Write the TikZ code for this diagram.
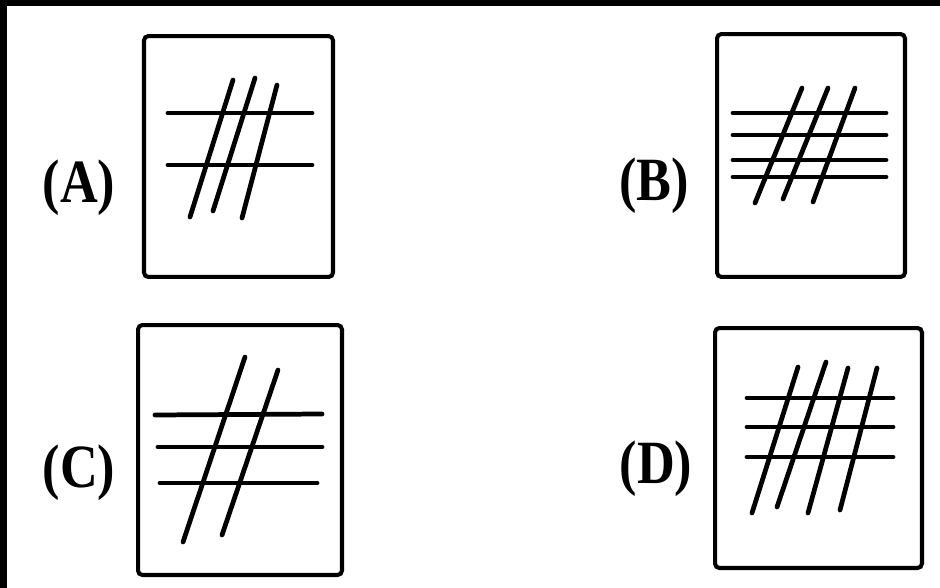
\documentclass[tikz,border=0pt]{standalone}
\usepackage{fontspec}
\setmainfont{Liberation Serif}
\usetikzlibrary{positioning}
\newcommand{\opttag}[1]{\scalebox{0.85}[1]{(#1)}}

\begin{document}
\begin{tikzpicture}[
    x=0.02cm, y=-0.02cm,
    panel/.style={draw, line width=2.3pt, rounded corners=2.5pt, inner sep=0pt},
    hash/.style={line width=2.7pt, line cap=round},
    tag/.style={anchor=base, inner sep=0pt, font=\bfseries\fontsize{35}{37}\selectfont}
]
    \useasboundingbox (0,0) rectangle (940,588);
    \fill[white] (0,0) rectangle (940,588);
    \fill[black] (0,0) rectangle (940,6);
    \fill[black] (0,0) rectangle (7,588);

    % panels
    \node[panel, minimum width=3.78cm, minimum height=4.82cm] (boxA) at (238.5,156.5) {};
    \node[panel, minimum width=3.76cm, minimum height=4.86cm] (boxB) at (811,155.5) {};
    \node[panel, minimum width=4.08cm, minimum height=5.0cm] (boxC) at (240,450) {};
    \node[panel, minimum width=4.14cm, minimum height=4.8cm] (boxD) at (818.5,448) {};

    % labels
    \node[tag] (tagA) at (79,202) {\opttag{A}};
    \node[tag] (tagB) at (654,200) {\opttag{B}};
    \node[tag] (tagC) at (79,487) {\opttag{C}};
    \node[tag] (tagD) at (656,483) {\opttag{D}};

    % (A)
    \foreach \y in {113,165}
        \draw[hash] (168,\y) -- (312,\y);
    \draw[hash] (233,80) -- (190,217);
    \draw[hash] (255,78) -- (213,211);
    \draw[hash] (277,85) -- (242,218);

    % (B)
    \foreach \y in {113,135,160,177}
        \draw[hash] (733,\y) -- (886,\y);
    \draw[hash] (802,88) -- (755,203);
    \draw[hash] (828,88) -- (783,199);
    \draw[hash] (855,88) -- (813,202);

    % (C)
    \draw[hash] (155,415) -- (322,414);
    \draw[hash] (158,447) -- (322,447);
    \draw[hash] (160,483) -- (317,483);
    \draw[hash] (245,357) -- (183,542);
    \draw[hash] (278,370) -- (222,535);

    % (D)
    \foreach \y in {398,427,457}
        \draw[hash] (747,\y) -- (893,\y);
    \draw[hash] (798,367) -- (752,513);
    \draw[hash] (826,362) -- (777,507);
    \draw[hash] (848,368) -- (808,513);
    \draw[hash] (877,368) -- (840,510);
\end{tikzpicture}
\end{document}
